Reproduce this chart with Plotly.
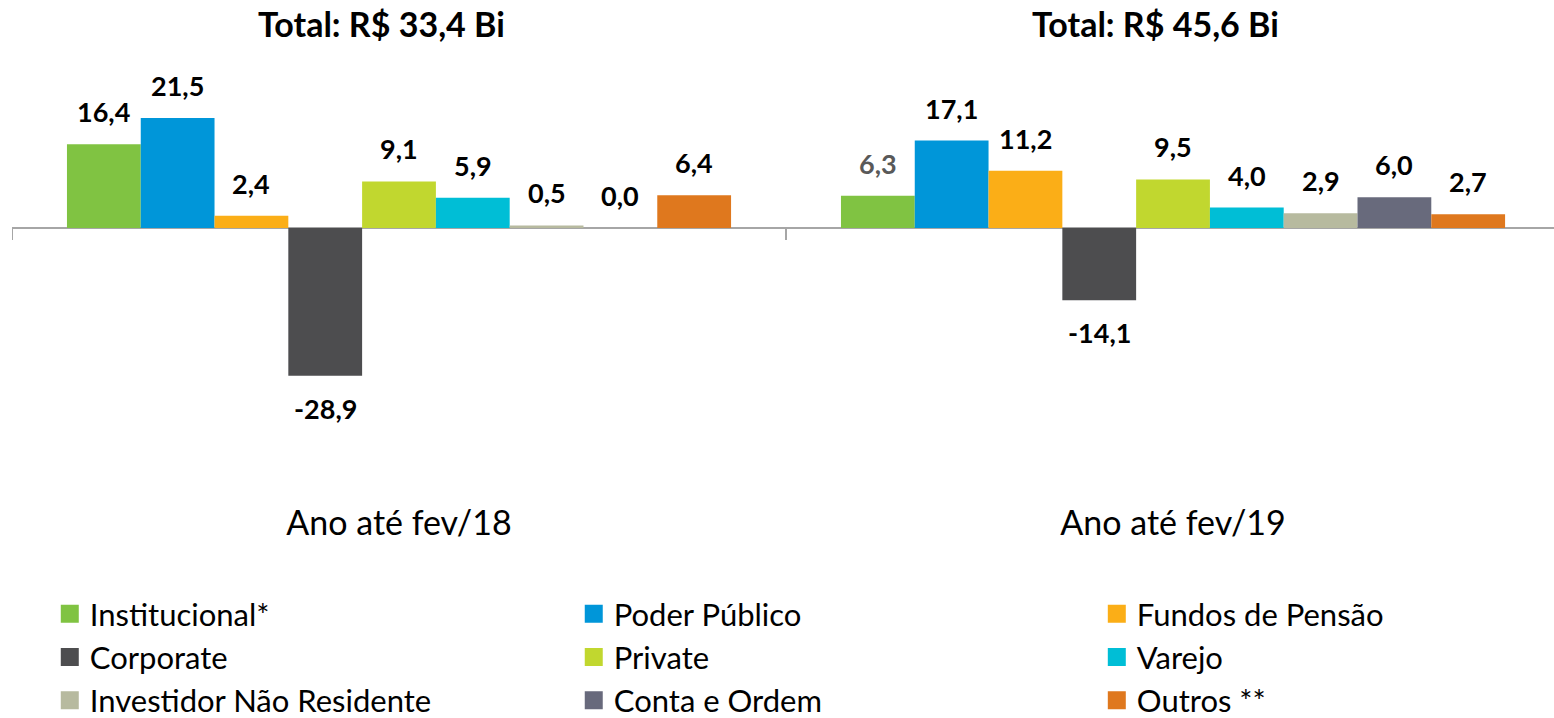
import plotly.graph_objects as go

periods = ["Ano até fev/18", "Ano até fev/19"]
totals = ["Total: R$ 33,4 Bi", "Total: R$ 45,6 Bi"]
series_names = ["Institucional*", "Poder Público", "Fundos de Pensão", "Corporate",
                "Private", "Varejo", "Investidor Não Residente", "Conta e Ordem", "Outros **"]
colors = ["#80C342", "#0096D9", "#FBAE17", "#4D4D4F", "#C1D72F",
          "#00BED6", "#B7BA9F", "#686A7C", "#DF781E"]
values_2018 = [16.4, 21.5, 2.4, -28.9, 9.1, 5.9, 0.5, 0.0, 6.4]
values_2019 = [6.3, 17.1, 11.2, -14.1, 9.5, 4.0, 2.9, 6.0, 2.7]
label_colors_2018 = ["#000000"] * 9
label_colors_2019 = ["#595959"] + ["#000000"] * 8

FONT = "Lato"
BARGAP = 0.142
n = len(series_names)
xs = list(range(len(periods)))
legend_ids = ["legend", "legend2", "legend3"]

fig = go.Figure()
annotations = []
for i, name in enumerate(series_names):
    vals = [values_2018[i], values_2019[i]]
    fig.add_trace(go.Bar(
        x=xs, y=vals, name=name, marker=dict(color=colors[i], line=dict(width=0)),
        showlegend=False, legendgroup=name, hoverinfo="y+name",
    ))
    fig.add_trace(go.Scatter(
        x=[None], y=[None], mode="markers", name=name, legendgroup=name,
        legend=legend_ids[i % 3],
        marker=dict(symbol="square", size=16, color=colors[i],
                    line=dict(color=colors[i], width=2)),
        showlegend=True,
    ))
    bw = (1 - BARGAP) / n
    for g, v in enumerate(vals):
        lc = (label_colors_2018 if g == 0 else label_colors_2019)[i]
        annotations.append(dict(
            x=xs[g] + (i - (n - 1) / 2) * bw, y=v, xref="x", yref="y",
            text="<b>" + f"{v:.1f}".replace(".", ",") + "</b>",
            showarrow=False,
            yanchor="bottom" if v >= 0 else "top",
            yshift=14 if v >= 0 else -14,
            font=dict(family=FONT, size=27, color=lc),
        ))

for g, t in enumerate(totals):
    annotations.append(dict(
        x=xs[g] - 0.023, y=1.058, xref="x", yref="paper", text="<b>" + t + "</b>",
        showarrow=False, yanchor="middle", xanchor="center",
        font=dict(family=FONT, size=34, color="#000000"),
    ))

shapes = []
for b in [-0.5, 0.5]:
    shapes.append(dict(type="line", xref="x", yref="y", x0=b, x1=b,
                       ysizemode="pixel", yanchor=0, y0=0, y1=-12,
                       line=dict(color="#A6A6A6", width=2)))

legend_style = dict(orientation="v", xanchor="left", y=-0.209, yanchor="top",
                    font=dict(family=FONT, size=31, color="#000000"),
                    bgcolor="rgba(0,0,0,0)", itemsizing="trace", traceorder="normal",
                    tracegroupgap=0)
col_x = [0.0245, 0.3643, 0.7035]

fig.update_layout(
    width=1554, height=718,
    margin=dict(l=12, r=0, t=49, b=224, autoexpand=False),
    paper_bgcolor="white", plot_bgcolor="white",
    barmode="group", bargap=BARGAP, bargroupgap=0,
    font=dict(family=FONT, color="#000000"),
    xaxis=dict(range=[-0.5, 1.4922], tickvals=xs, ticktext=periods,
               showgrid=False, zeroline=False, showline=False, ticks="",
               ticklabelstandoff=6,
               tickfont=dict(family=FONT, size=34, color="#000000")),
    yaxis=dict(range=[-52, 35], showgrid=False, showticklabels=False, ticks="",
               zeroline=True, zerolinecolor="#A6A6A6", zerolinewidth=2, showline=False),
    legend=dict(x=col_x[0], **legend_style),
    legend2=dict(x=col_x[1], **legend_style),
    legend3=dict(x=col_x[2], **legend_style),
    annotations=annotations,
    shapes=shapes,
    showlegend=True,
)

fig.write_html("out.html", config={"displayModeBar": False},
               post_script="document.body.style.margin='0px';")
